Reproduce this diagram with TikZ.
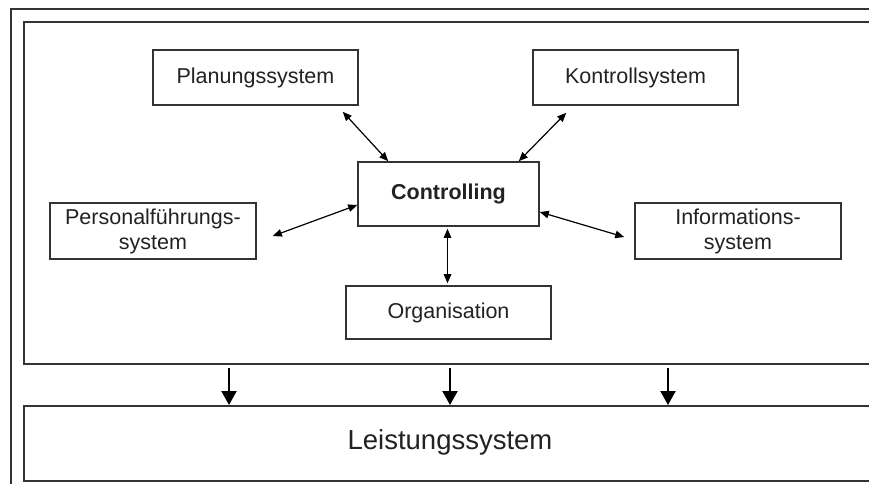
\documentclass[tikz,border=0pt]{standalone}
\usepackage{fontspec}
\setmainfont{Liberation Sans}
\usetikzlibrary{arrows.meta,calc}
\definecolor{linegray}{HTML}{333333}
\definecolor{textgray}{HTML}{222222}
\tikzset{
  frame/.style={draw=linegray, line width=1.7pt, rectangle, inner sep=0pt, anchor=north west},
  sysbox/.style={draw=linegray, line width=1.6pt, rectangle, inner sep=0pt,
    minimum width=205pt, minimum height=55pt, align=center, text=textgray,
    font=\fontsize{21.5}{25}\selectfont},
  link/.style={draw=black, line width=1.2pt,
    {Triangle[length=9pt,width=7.5pt]}-{Triangle[length=9pt,width=7.5pt]}},
  flow/.style={draw=black, line width=2.2pt, -{Triangle[length=14pt,width=15pt]}}
}
\begin{document}
\begin{tikzpicture}[x=1pt,y=-1pt]
  \clip (0,0) rectangle (869,483);
  \fill[white] (0,0) rectangle (869,483);

  % outer frame and the two system blocks
  \node[frame, minimum width=900pt, minimum height=500pt] (outer) at (10,8) {};
  \node[frame, minimum width=900pt, minimum height=342pt] (sys) at (23,21) {};
  \node[frame, minimum width=900pt, minimum height=75pt] (leistbox) at (23,405) {};
  \node[text=textgray, font=\fontsize{27.5}{30}\selectfont] (leist) at (450,442) {Leistungssystem};

  % subsystems
  \node[sysbox] (plan) at (255.5,77.5) {Planungssystem};
  \node[sysbox] (kontr) at (635.5,77.5) {Kontrollsystem};
  \node[sysbox, minimum width=181pt, minimum height=64pt, font=\fontsize{21.5}{25}\selectfont\bfseries] (ctrl) at (448.5,194) {Controlling};
  \node[sysbox, minimum width=206pt, minimum height=56pt] (pers) at (153,231) {Personalführungs-\\system};
  \node[sysbox, minimum width=206pt, minimum height=56pt] (info) at (738,231) {Informations-\\system};
  \node[sysbox, minimum height=53pt] (org) at (448.5,312.5) {Organisation};

  % links to Controlling
  \draw[link] ($(plan.south east)+(-16,6)$) -- ($(ctrl.north west)+(31,0)$);
  \draw[link] ($(kontr.south west)+(34,7)$) -- ($(ctrl.north east)+(-21,0)$);
  \draw[link] ($(pers.east)+(16,5)$) -- ($(ctrl.west)+(0,11)$);
  \draw[link] ($(ctrl.east)+(0,18)$) -- ($(info.west)+(-10,6)$);
  \draw[link] ($(ctrl.south)+(-1,2)$) -- ($(org.north)+(-1,-2)$);

  % flows into the Leistungssystem
  \draw[flow] ($(sys.south west)+(206,3)$) -- ($(leistbox.north west)+(206,0)$);
  \draw[flow] ($(sys.south west)+(427,3)$) -- ($(leistbox.north west)+(427,0)$);
  \draw[flow] ($(sys.south west)+(645,3)$) -- ($(leistbox.north west)+(645,0)$);
\end{tikzpicture}
\end{document}
